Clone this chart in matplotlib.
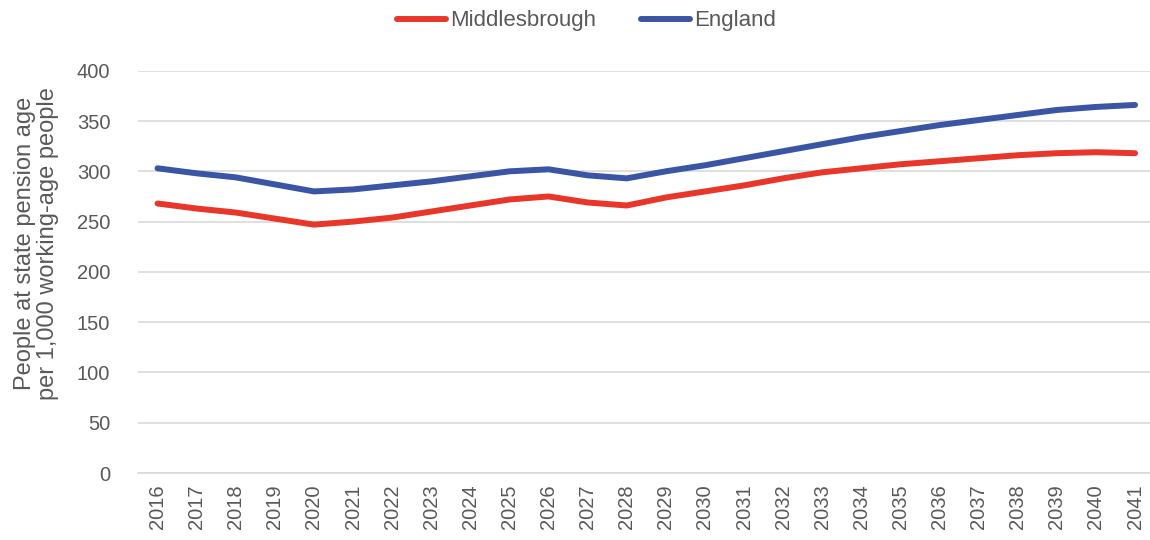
import matplotlib.pyplot as plt
import numpy as np

years = list(range(2016, 2042))
middlesbrough = [268, 263, 259, 253, 247, 250, 254, 260, 266, 272, 275, 269, 266,
                 274, 280, 286, 293, 299, 303, 307, 310, 313, 316, 318, 319, 318]
england = [303, 298, 294, 287, 280, 282, 286, 290, 295, 300, 302, 296, 293,
           300, 306, 313, 320, 327, 334, 340, 346, 351, 356, 361, 364, 366]

plt.rcParams['font.family'] = ['Liberation Sans', 'DejaVu Sans']
grey = '#595959'

fig = plt.figure(figsize=(11.5, 5.4), dpi=100)
ax = fig.add_axes([0.12, 0.124, 0.884, 0.745])

x = np.arange(len(years))
ax.plot(x, middlesbrough, color='#E8372A', lw=4.3, solid_capstyle='round', label='Middlesbrough')
ax.plot(x, england, color='#3B55A5', lw=4.3, solid_capstyle='round', label='England')

ax.set_xlim(-0.5, len(years) - 0.5)
ax.set_ylim(0, 400)
ax.set_yticks(range(0, 401, 50))
ax.set_xticks(x)
ax.set_xticklabels([str(y) for y in years], rotation=90)
ax.tick_params(axis='both', length=0, labelsize=14.5, colors=grey)
ax.tick_params(axis='y', pad=20)
ax.tick_params(axis='x', pad=8)
ax.grid(axis='y', color='#D9D9D9', lw=1.2)
ax.set_axisbelow(True)
for s in ['top', 'right', 'left']:
    ax.spines[s].set_visible(False)
ax.spines['bottom'].set_color('#D9D9D9')
ax.spines['bottom'].set_linewidth(1.2)

ax.set_ylabel('People at state pension age\nper 1,000 working-age people',
              fontsize=17, color=grey, linespacing=1.05)
ax.yaxis.set_label_coords(-0.078, 0.57)

fig.legend(loc='upper center', bbox_to_anchor=(0.51, 1.018), ncol=2, frameon=False,
           fontsize=16, labelcolor=grey, handlelength=2.2, handletextpad=0.2,
           columnspacing=2.0)

fig.savefig('out.png', dpi=100)
